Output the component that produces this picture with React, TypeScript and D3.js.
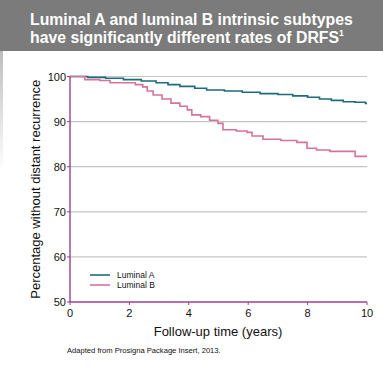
import React from "react";
import * as d3 from "d3";

const titleLines = ["Luminal A and luminal B intrinsic subtypes", "have significantly different rates of DRFS"];
const xTicks = [0, 2, 4, 6, 8, 10];
const yTicks = [50, 60, 70, 80, 90, 100];
const seriesNames = ["Luminal A", "Luminal B"];

const lumATimes = [0, 0.6, 1.2, 1.8, 2.4, 2.9, 3.3, 3.7, 4.2, 4.6, 5.2, 5.8, 6.4, 7.0, 7.5, 8.0, 8.4, 8.8, 9.2, 9.6, 9.95, 10];
const lumAValues = [100, 99.8, 99.6, 99.3, 99.0, 98.6, 98.2, 97.8, 97.4, 97.0, 96.8, 96.5, 96.2, 96.0, 95.7, 95.4, 95.0, 94.7, 94.4, 94.3, 94.0, 94.0];

const lumBTimes = [0, 0.5, 1.0, 1.35, 2.2, 2.45, 2.6, 2.8, 3.1, 3.4, 3.7, 3.95, 4.1, 4.4, 4.7, 4.98, 5.15, 5.6, 5.96, 6.13, 6.5, 7.1, 7.64, 7.98, 8.3, 8.75, 9.6, 10];
const lumBValues = [100, 99.3, 99.1, 98.6, 98.2, 97.7, 96.8, 95.9, 95.0, 94.1, 93.4, 92.6, 91.5, 91.1, 90.3, 89.6, 88.2, 87.9, 87.6, 86.8, 86.1, 85.8, 85.4, 84.1, 83.7, 83.4, 82.3, 82.3];

const W = 383;
const H = 390;
const m = { left: 70, right: 16, top: 76.5, bottom: 88 };

export default function App() {
  const x = d3.scaleLinear().domain([0, 10]).range([m.left, W - m.right]);
  const y = d3.scaleLinear().domain([50, 100]).range([H - m.bottom, m.top]);
  const line = d3
    .line<[number, number]>()
    .x((d) => x(d[0]))
    .y((d) => y(d[1]))
    .curve(d3.curveStepAfter);
  const dataA: [number, number][] = lumATimes.map((t, i) => [t, lumAValues[i]]);
  const dataB: [number, number][] = lumBTimes.map((t, i) => [t, lumBValues[i]]);
  const colors = ["#1d6c7c", "#d4739b"];
  const axisColor = "#9e3f8c";
  const font = "'Liberation Sans', Arial, sans-serif";

  return (
    <svg
      width={W}
      height={H}
      style={{ position: "absolute", left: 0, top: 0, fontFamily: font }}
    >
      <defs>
        <linearGradient id="edge" x1="0" y1="0" x2="0" y2="1">
          <stop offset="0" stopColor="#bdbdbd" />
          <stop offset="1" stopColor="#ffffff" />
        </linearGradient>
      </defs>
      <rect x={0} y={0} width={W} height={H} fill="#ffffff" />
      <rect x={0} y={0} width={W} height={51} fill="#7b7b7b" />
      <rect x={0} y={51} width={3} height={120} fill="url(#edge)" />
      <text x={30} y={25} fill="#ffffff" fontWeight="bold" fontSize={15.8}>
        {titleLines[0]}
      </text>
      <text x={30} y={43} fill="#ffffff" fontWeight="bold" fontSize={15.8}>
        {titleLines[1]}
        <tspan fontSize={8.5} dy={-7}>1</tspan>
      </text>

      {yTicks
        .filter((t) => t !== 50)
        .map((t) => (
          <line key={t} x1={x(0)} x2={x(10)} y1={y(t)} y2={y(t)} stroke="#c4c4c4" strokeWidth={1.2} />
        ))}

      {yTicks.map((t) => (
        <g key={t}>
          <line x1={x(0) - 3} x2={x(0)} y1={y(t)} y2={y(t)} stroke={axisColor} strokeWidth={1} />
          <text x={x(0) - 4} y={y(t) + 4} textAnchor="end" fontSize={11} fill="#111">
            {t}
          </text>
        </g>
      ))}
      {xTicks.map((t) => (
        <g key={t}>
          <line x1={x(t)} x2={x(t)} y1={y(50)} y2={y(50) + 3} stroke={axisColor} strokeWidth={1} />
          <text x={x(t)} y={y(50) + 15} textAnchor="middle" fontSize={11} fill="#111">
            {t}
          </text>
        </g>
      ))}

      <path d={line(dataA) || ""} fill="none" stroke={colors[0]} strokeWidth={1.6} />
      <path d={line(dataB) || ""} fill="none" stroke={colors[1]} strokeWidth={1.6} />

      <line x1={x(0)} x2={x(0)} y1={y(100)} y2={y(50)} stroke={axisColor} strokeWidth={1.4} />
      <line x1={x(0)} x2={x(10)} y1={y(50)} y2={y(50)} stroke={axisColor} strokeWidth={1.4} />

      {seriesNames.map((n, i) => (
        <g key={n}>
          <line x1={90} x2={110} y1={275 + i * 10} y2={275 + i * 10} stroke={colors[i]} strokeWidth={1.6} />
          <text x={117} y={278 + i * 10} fontSize={8.5} fill="#111">
            {n}
          </text>
        </g>
      ))}

      <text x={218} y={336} textAnchor="middle" fontSize={13} fill="#111">
        Follow-up time (years)
      </text>
      <text
        transform={`translate(40, ${y(75)}) rotate(-90)`}
        textAnchor="middle"
        fontSize={13}
        fill="#111"
      >
        Percentage without distant recurrence
      </text>
      <text x={67} y={353} fontSize={7.6} fill="#111">
        Adapted from Prosigna Package Insert, 2013.
      </text>
    </svg>
  );
}
